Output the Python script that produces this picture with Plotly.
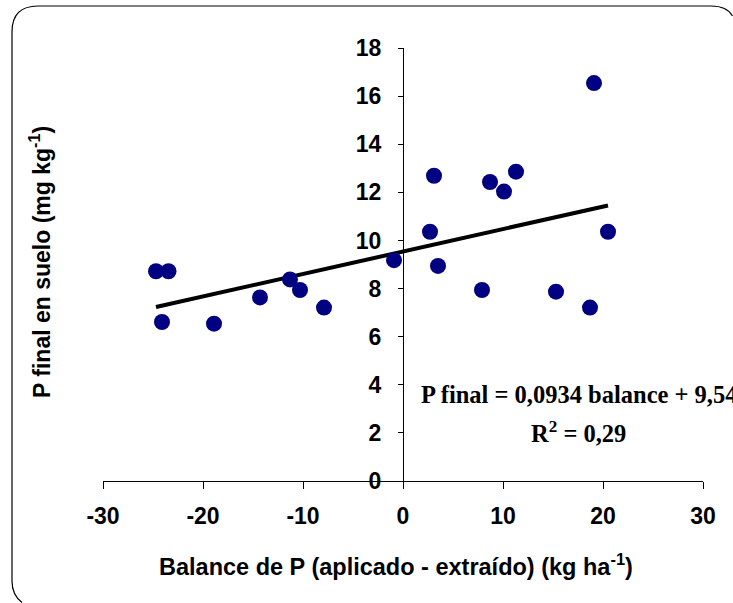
import numpy as np
import plotly.graph_objects as go

W, H = 733, 603

# Data
balance = [-24.7, -23.45, -24.1, -18.9, -14.3, -11.3, -10.3, -7.9, -0.9,
           2.7, 3.1, 3.5, 7.9, 8.7, 10.1, 11.3, 15.3, 18.7, 19.1, 20.5]
p_final = [8.72, 8.72, 6.61, 6.54, 7.63, 8.38, 7.94, 7.21, 9.18,
           10.36, 12.69, 8.94, 7.94, 12.43, 12.03, 12.86, 7.87, 7.21, 16.54, 10.36]
slope, intercept = 0.0934, 9.54
r2 = 0.29
x_ticks = [-30, -20, -10, 0, 10, 20, 30]
x_ticklabels = ["-30", "-20", "-10", "0", "10", "20", "30"]
y_ticks = [0, 2, 4, 6, 8, 10, 12, 14, 16, 18]

xl = np.array([min(balance), max(balance)])
yl = slope * xl + intercept


def fx(px):
    return px / W


def fy(py):
    return 1 - py / H


def dec(v):
    return str(v).replace(".", ",")


fig = go.Figure()
fig.add_trace(go.Scatter(x=xl, y=yl, mode="lines",
                         line=dict(color="black", width=4), showlegend=False))
fig.add_trace(go.Scatter(x=balance, y=p_final, mode="markers",
                         marker=dict(color="#000080", size=16), showlegend=False))

tickfont = dict(family="Liberation Sans, Arial", size=23, color="black", weight="bold")
fig.update_layout(
    width=W, height=H,
    margin=dict(l=0, r=0, t=0, b=0, autoexpand=False),
    paper_bgcolor="white", plot_bgcolor="white",
    xaxis=dict(domain=[fx(103), fx(703)], range=[-30, 30], tickvals=x_ticks,
               ticktext=x_ticklabels, automargin=False,
               showgrid=False, zeroline=False, showline=True, linecolor="black",
               linewidth=1, ticks="outside", ticklen=7, tickcolor="black",
               tickfont=tickfont, ticklabelstandoff=7, fixedrange=True),
    yaxis=dict(domain=[fy(481), fy(48)], range=[0, 18], tickvals=y_ticks,
               anchor="free", position=fx(403), automargin=False,
               showgrid=False, zeroline=False, showline=True, linecolor="black",
               linewidth=1, ticks="outside", ticklen=5, tickcolor="black",
               tickfont=tickfont, ticklabelstandoff=12, fixedrange=True),
)

# rounded border, open path kept inside the picture (right/bottom edges are off-picture)
x0, y0, r = 12, 6, 26
path = (f"M {fx(W - 0.5)},{fy(y0 + 10)} Q {fx(W - 6)},{fy(y0)} {fx(W - 22)},{fy(y0)} "
        f"L {fx(x0 + r)},{fy(y0)} Q {fx(x0)},{fy(y0)} {fx(x0)},{fy(y0 + r)} "
        f"L {fx(x0)},{fy(H - 22)} Q {fx(x0)},{fy(H - 8)} {fx(x0 + 10)},{fy(H - 0.5)}")
fig.add_shape(type="path", path=path, xref="paper", yref="paper",
              line=dict(color="black", width=1.2))

fig.add_annotation(text="Balance de P (aplicado - extraído) (kg ha<sup>-1</sup>)",
                   x=fx(396), y=fy(565), xref="paper", yref="paper",
                   showarrow=False, xanchor="center", yanchor="middle",
                   font=dict(family="Liberation Sans, Arial", size=23.5, color="black", weight="bold"))
fig.add_annotation(text="P final en suelo (mg kg<sup>-1</sup>)",
                   x=fx(40), y=fy(262), xref="paper", yref="paper", textangle=-90,
                   showarrow=False, xanchor="center", yanchor="middle",
                   font=dict(family="Liberation Sans, Arial", size=23, color="black", weight="bold"))

eqfont = dict(family="Liberation Serif, Times New Roman", size=24.5, color="black", weight="bold")
fig.add_annotation(text=f"P final = {dec(slope)} balance + {dec(intercept)}",
                   x=fx(419), y=fy(394), xref="paper", yref="paper",
                   showarrow=False, font=eqfont, xanchor="left", yanchor="middle")
fig.add_annotation(text=f"R<sup>2</sup> = {dec(r2)}",
                   x=fx(578), y=fy(432), xref="paper", yref="paper",
                   showarrow=False, font=eqfont, xanchor="center", yanchor="middle")

fig.write_html("out.html")
